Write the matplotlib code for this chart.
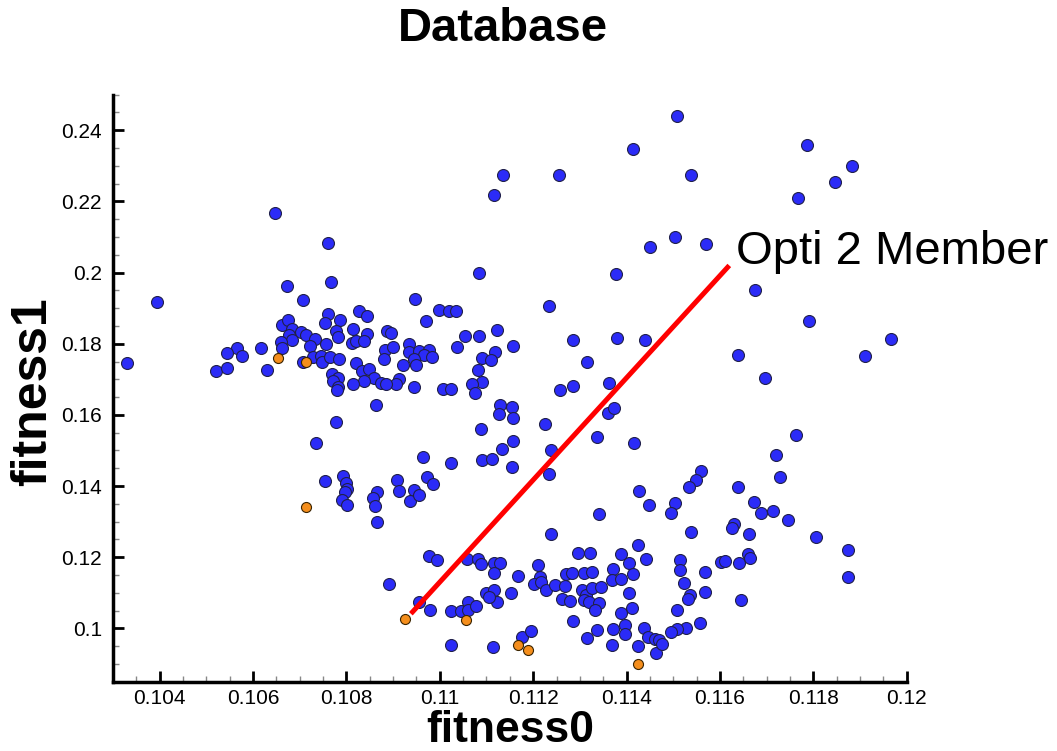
import matplotlib.pyplot as plt
from matplotlib.ticker import MultipleLocator, FuncFormatter

plt.rcParams['font.family'] = ['Liberation Sans', 'DejaVu Sans']

# database members (blue)
blue_x = [
    0.10331, 0.10395, 0.10646, 0.10761, 0.10766, 0.10672, 0.10707, 0.10761, 0.10754, 0.10786,
    0.10827, 0.10845, 0.10663, 0.10675, 0.10684, 0.10677, 0.10702, 0.10713, 0.10684, 0.10659,
    0.10663, 0.10733, 0.10756, 0.10722, 0.10777, 0.10781, 0.10814, 0.10843, 0.10811, 0.10820,
    0.10838, 0.10886, 0.10883, 0.10881, 0.10566, 0.10545, 0.10576, 0.10616, 0.10520, 0.10545,
    0.10629, 0.10708, 0.10728, 0.10746, 0.10748, 0.10764, 0.10784, 0.10769, 0.10781, 0.10771,
    0.10781, 0.10820, 0.10834, 0.10848, 0.10859, 0.10838, 0.10814, 0.10874,
    0.11413, 0.11136, 0.11256, 0.11117, 0.11450, 0.11083, 0.11377, 0.11234, 0.10947, 0.10998,
    0.11020, 0.11034, 0.10970, 0.10895, 0.11055, 0.11083, 0.11123, 0.11157, 0.11036, 0.11286,
    0.11379, 0.11439, 0.11315, 0.11363, 0.11286, 0.11258, 0.10934, 0.10900, 0.10934, 0.10956,
    0.10977, 0.10966, 0.10984, 0.10945, 0.10949, 0.10922, 0.11091, 0.11118, 0.11109, 0.11081,
    0.11090, 0.11070, 0.10913, 0.10906, 0.10884, 0.10945, 0.11006, 0.11024,
    0.11509, 0.11787, 0.11883, 0.11847, 0.11768, 0.11537, 0.11504, 0.11570, 0.11676, 0.11791,
    0.11966, 0.11911, 0.11638, 0.11697,
    0.10779, 0.10863, 0.10778, 0.10734, 0.10754, 0.10793, 0.10799, 0.10801, 0.10797, 0.10790,
    0.10802, 0.10866, 0.10857, 0.10861, 0.10866, 0.10891,
    0.11075, 0.11129, 0.11154, 0.11126, 0.11157, 0.11088, 0.11225, 0.11361, 0.11373, 0.11336,
    0.11416, 0.11157, 0.11134, 0.11239, 0.11091, 0.11111, 0.11154, 0.11233, 0.10965, 0.11025,
    0.10909, 0.10913, 0.10945, 0.10936, 0.10956, 0.10973, 0.10986, 0.11426, 0.11449, 0.11341,
    0.11239, 0.11424, 0.11441, 0.10977, 0.10995, 0.11059, 0.11081, 0.11088, 0.11116, 0.11128,
    0.11116, 0.11168, 0.11211, 0.11215, 0.11202, 0.11216, 0.11227, 0.11247, 0.11268, 0.11261,
    0.11278, 0.11270, 0.11284, 0.11296, 0.11322, 0.11309, 0.11327, 0.11304, 0.11313, 0.11309,
    0.11320, 0.11327, 0.11345, 0.11341, 0.11333, 0.11370, 0.11389, 0.11406, 0.11413, 0.11368,
    0.11389, 0.11406, 0.11411, 0.11388, 0.11286, 0.11370, 0.11396, 0.11397, 0.11336, 0.11315,
    0.11368, 0.11424, 0.11438, 0.11445, 0.11461, 0.11463, 0.10956, 0.10979, 0.11025, 0.11045,
    0.11061, 0.11061, 0.11078, 0.11098, 0.11116, 0.11123, 0.11152, 0.11106, 0.11025, 0.11114,
    0.11177, 0.11196,
    0.11763, 0.11720, 0.11729, 0.11559, 0.11548, 0.11534, 0.11638, 0.11673, 0.11688, 0.11713,
    0.11746, 0.11504, 0.11495, 0.11538, 0.11631, 0.11626, 0.11663, 0.11806, 0.11875, 0.11874,
    0.11514, 0.11514, 0.11602, 0.11611, 0.11641, 0.11661, 0.11664, 0.11568, 0.11522, 0.11536,
    0.11531, 0.11568, 0.11645, 0.11509, 0.11558, 0.11527, 0.11507, 0.11495, 0.11470, 0.11476,
]
blue_y = [
    0.1746, 0.1916, 0.2167, 0.2083, 0.1973, 0.1961, 0.1922, 0.1883, 0.1859, 0.1868,
    0.1892, 0.1877, 0.1854, 0.1868, 0.1840, 0.1824, 0.1833, 0.1824, 0.1810, 0.1805,
    0.1789, 0.1812, 0.1798, 0.1793, 0.1836, 0.1819, 0.1840, 0.1826, 0.1802, 0.1808,
    0.1808, 0.1836, 0.1783, 0.1758, 0.1789, 0.1774, 0.1765, 0.1789, 0.1722, 0.1732,
    0.1727, 0.1750, 0.1763, 0.1765, 0.1749, 0.1764, 0.1758, 0.1716, 0.1705, 0.1695,
    0.1677, 0.1746, 0.1723, 0.1730, 0.1705, 0.1695, 0.1688, 0.1690,
    0.2346, 0.2274, 0.2273, 0.2217, 0.2072, 0.1999, 0.1995, 0.1907, 0.1927, 0.1894,
    0.1892, 0.1892, 0.1864, 0.1830, 0.1821, 0.1822, 0.1838, 0.1794, 0.1791, 0.1810,
    0.1817, 0.1810, 0.1749, 0.1690, 0.1680, 0.1671, 0.1800, 0.1791, 0.1777, 0.1779,
    0.1781, 0.1767, 0.1763, 0.1758, 0.1739, 0.1739, 0.1761, 0.1777, 0.1753, 0.1725,
    0.1692, 0.1688, 0.1702, 0.1688, 0.1688, 0.1678, 0.1674, 0.1674,
    0.2439, 0.2358, 0.2299, 0.2255, 0.2210, 0.2273, 0.2100, 0.2081, 0.1950, 0.1863,
    0.1812, 0.1765, 0.1769, 0.1705,
    0.1671, 0.1627, 0.1579, 0.1521, 0.1414, 0.1427, 0.1408, 0.1393, 0.1383, 0.1360,
    0.1348, 0.1383, 0.1367, 0.1345, 0.1300, 0.1124,
    0.1661, 0.1627, 0.1622, 0.1602, 0.1592, 0.1561, 0.1575, 0.1604, 0.1618, 0.1538,
    0.1521, 0.1526, 0.1505, 0.1500, 0.1474, 0.1477, 0.1453, 0.1435, 0.1482, 0.1465,
    0.1418, 0.1385, 0.1388, 0.1358, 0.1374, 0.1424, 0.1407, 0.1385, 0.1346, 0.1322,
    0.1264, 0.1235, 0.1196, 0.1202, 0.1191, 0.1196, 0.1196, 0.1182, 0.1184, 0.1184,
    0.1155, 0.1146, 0.1177, 0.1144, 0.1124, 0.1130, 0.1109, 0.1121, 0.1118, 0.1083,
    0.1077, 0.1154, 0.1155, 0.1212, 0.1212, 0.1155, 0.1158, 0.1107, 0.1093, 0.1079,
    0.1074, 0.1112, 0.1116, 0.1071, 0.1051, 0.1168, 0.1208, 0.1184, 0.1154, 0.1135,
    0.1138, 0.1098, 0.1057, 0.1043, 0.1021, 0.0999, 0.1010, 0.0983, 0.0994, 0.0974,
    0.0952, 0.0950, 0.1002, 0.0976, 0.0971, 0.0931, 0.1074, 0.1051, 0.1049, 0.1049,
    0.1074, 0.1051, 0.1062, 0.1098, 0.1107, 0.1074, 0.1098, 0.1088, 0.0954, 0.0947,
    0.0976, 0.0992,
    0.1543, 0.1488, 0.1424, 0.1441, 0.1416, 0.1397, 0.1397, 0.1355, 0.1324, 0.1330,
    0.1304, 0.1353, 0.1325, 0.1271, 0.1292, 0.1283, 0.1264, 0.1257, 0.1221, 0.1144,
    0.1193, 0.1163, 0.1186, 0.1189, 0.1184, 0.1208, 0.1199, 0.1157, 0.1128, 0.1095,
    0.1083, 0.1102, 0.1079, 0.1051, 0.1015, 0.1002, 0.0999, 0.0990, 0.0966, 0.0957,
]

# members of the optimisation runs (orange)
orange_x = [0.10653, 0.10713, 0.10713, 0.10926, 0.11057, 0.11168, 0.11189, 0.11424]
orange_y = [0.1760, 0.1749, 0.1341, 0.1027, 0.1022, 0.0952, 0.0940, 0.0899]

# pointer line and its label
line_x = [0.10938, 0.11620]
line_y = [0.1041, 0.2020]
label_text = "Opti 2 Member"

fig = plt.figure(figsize=(10.57, 7.51), dpi=100)
ax = fig.add_axes([0.1069, 0.0923, 0.7509, 0.7816])

ax.scatter(blue_x, blue_y, s=74, c='#2b2bf7', edgecolors='#20204a', linewidths=0.8, zorder=3)
ax.scatter(orange_x, orange_y, s=52, c='#f58e1c', edgecolors='#3a2400', linewidths=0.8, zorder=4)

ax.plot(line_x, line_y, color='red', lw=3.6, solid_capstyle='butt', zorder=5)
ax.text(0.11634, 0.2058, label_text, fontsize=34, ha='left', va='center', clip_on=False)

ax.set_xlim(0.103, 0.12)
ax.set_ylim(0.085, 0.25)
ax.xaxis.set_major_locator(MultipleLocator(0.002))
ax.xaxis.set_minor_locator(MultipleLocator(0.0005))
ax.yaxis.set_major_locator(MultipleLocator(0.02))
ax.yaxis.set_minor_locator(MultipleLocator(0.005))
fmt = FuncFormatter(lambda v, p: '{:g}'.format(round(v, 6)))
ax.xaxis.set_major_formatter(fmt)
ax.yaxis.set_major_formatter(fmt)

ax.tick_params(which='major', direction='in', length=8, width=2, labelsize=15, color='black')
ax.tick_params(which='minor', direction='in', length=4, width=1, color='#888888')
ax.tick_params(axis='x', pad=5)
ax.tick_params(axis='y', pad=8)

for side in ['top', 'right']:
    ax.spines[side].set_visible(False)
for side in ['left', 'bottom']:
    ax.spines[side].set_linewidth(2.5)

fig.text(503 / 1057, 1 - 29 / 751, 'Database', fontsize=34, fontweight='bold', ha='center', va='center')
fig.text(510 / 1057, 1 - 731 / 751, 'fitness0', fontsize=32, fontweight='bold', ha='center', va='center')
fig.text(33 / 1057, 1 - 392 / 751, 'fitness1', fontsize=36, fontweight='bold', ha='center', va='center',
         rotation=90)

fig.savefig('out.png', dpi=100)
